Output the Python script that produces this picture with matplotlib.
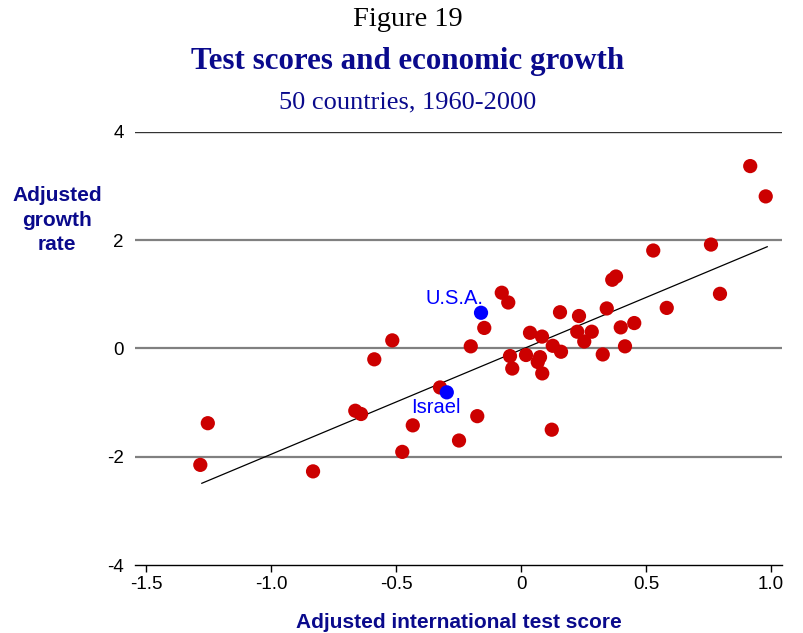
import numpy as np
import matplotlib
matplotlib.use("Agg")
import matplotlib.pyplot as plt

# adjusted test score (x) and adjusted growth rate (y)
score = [-1.283, -1.253, -0.832, -0.663, -0.640, -0.587, -0.515, -0.475,
         -0.433, -0.324, -0.248, -0.201, -0.175, -0.147, -0.077, -0.051,
         -0.044, -0.035, 0.020, 0.036, 0.084, 0.076, 0.067, 0.085,
         0.123, 0.127, 0.160, 0.156, 0.225, 0.232, 0.253, 0.283,
         0.327, 0.343, 0.365, 0.380, 0.399, 0.416, 0.453, 0.529,
         0.583, 0.760, 0.796, 0.917, 0.979]
growth = [-2.15, -1.38, -2.27, -1.15, -1.21, -0.20, 0.15, -1.91,
          -1.42, -0.72, -1.70, 0.04, -1.25, 0.38, 1.03, 0.85,
          -0.14, -0.37, -0.12, 0.29, 0.22, -0.16, -0.25, -0.46,
          -1.50, 0.05, -0.06, 0.67, 0.31, 0.60, 0.13, 0.31,
          -0.11, 0.74, 1.27, 1.33, 0.39, 0.04, 0.47, 1.81,
          0.75, 1.92, 1.01, 3.37, 2.81]

# highlighted countries
hl_names = ["U.S.A.", "Israel"]
hl_score = [-0.160, -0.297]
hl_growth = [0.66, -0.81]

# fitted line end points
fit_x = [-1.277, 0.985]
fit_y = [-2.49, 1.88]

xticks = [-1.5, -1.0, -0.5, 0, 0.5, 1.0]
xtick_labels = ["-1.5", "-1.0", "-0.5", "0", "0.5", "1.0"]
yticks = [-4, -2, 0, 2, 4]

navy = "#0a0a8c"
sans = ["Liberation Sans", "DejaVu Sans"]
serif = ["Liberation Serif", "DejaVu Serif"]

fig = plt.figure(figsize=(8.04, 6.33), dpi=100)
ax = fig.add_axes([0.168, 0.1074, 0.8046, 0.6841])

# horizontal reference lines
for yv in [2, 0, -2]:
    ax.axhline(yv, color="#808080", lw=1.6, zorder=1)
ax.axhline(4, color="#333333", lw=1.0, zorder=1)

ax.plot(fit_x, fit_y, color="black", lw=0.9, zorder=2)
ax.scatter(score, growth, s=105, color="#cc0000", edgecolors="none", zorder=3)
ax.scatter(hl_score, hl_growth, s=105, color="#0000ff", edgecolors="none", zorder=4)

ax.annotate(hl_names[0], (hl_score[0], hl_growth[0]), xytext=(2, 10),
            textcoords="offset points", ha="right", va="center",
            color="#0000ff", fontsize=14.5, family=sans)
ax.annotate(hl_names[1], (hl_score[1], hl_growth[1]), xytext=(-7.5, -11),
            textcoords="offset points", ha="center", va="center",
            color="#0000ff", fontsize=14.5, family=sans)

ax.set_xlim(-1.544, 1.044)
ax.set_ylim(-4, 4)
ax.set_xticks(xticks)
ax.set_xticklabels(xtick_labels)
ax.set_yticks(yticks)
ax.set_yticklabels([str(v) for v in yticks])

for side in ["top", "right", "left"]:
    ax.spines[side].set_visible(False)
ax.spines["bottom"].set_linewidth(1.0)
ax.tick_params(axis="x", length=5, width=1, pad=3, labelsize=13.5)
ax.tick_params(axis="y", length=0, pad=8, labelsize=13.5)
for lab in ax.get_xticklabels() + ax.get_yticklabels():
    lab.set_family(sans)

ax.set_xlabel("Adjusted international test score", fontsize=15, fontweight="bold",
              color=navy, family=sans, labelpad=14)
fig.text(57 / 804, 1 - 220 / 633, "Adjusted\ngrowth\nrate", ha="center", va="center",
         fontsize=15, fontweight="bold", color=navy, family=sans, linespacing=1.35)

# titles are centred a little right of the figure middle
tx = 408 / 804
fig.text(tx, 1 - 20 / 633, "Figure 19", ha="center", va="center",
         fontsize=20.5, family=serif, color="black")
fig.text(tx, 1 - 62 / 633, "Test scores and economic growth", ha="center", va="center",
         fontsize=22.3, fontweight="bold", family=serif, color=navy)
fig.text(tx, 1 - 102 / 633, "50 countries, 1960-2000", ha="center", va="center",
         fontsize=19, family=serif, color=navy)

fig.savefig("out.png", dpi=100)
